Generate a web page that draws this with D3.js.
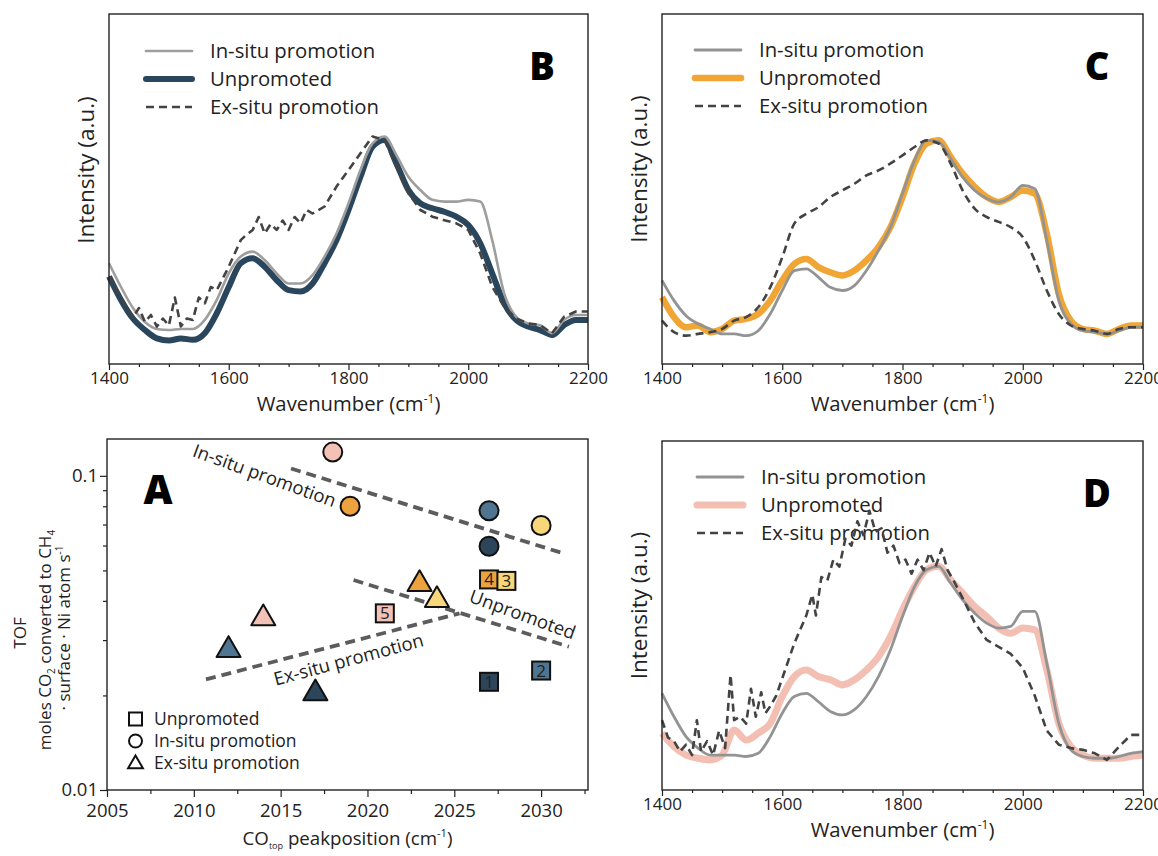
<!DOCTYPE html>
<html>
<head>
<meta charset="utf-8">
<script src="https://cdn.jsdelivr.net/npm/d3@7"></script>
<style>
body { margin: 0; background: #fff; }
svg { font-family: "Open Sans", sans-serif; }
</style>
</head>
<body>
<div id="chart"></div>
<script>
/** Spectra data (intensity as fraction of the plot height) **/
var wn = [1400,1420,1440,1460,1480,1500,1520,1540,1560,1580,1600,1620,1640,1660,1680,1700,1720,1740,1760,1780,
          1800,1820,1840,1860,1880,1900,1920,1940,1960,1980,2000,2020,2040,2060,2080,2100,2120,2140,2160,2180,2200];

// panel B
var bInsitu = [0.288,0.22,0.16,0.12,0.10,0.097,0.10,0.10,0.126,0.183,0.259,0.307,0.321,0.297,0.259,0.23,0.23,0.254,0.307,0.373,
               0.459,0.554,0.63,0.65,0.597,0.535,0.497,0.469,0.464,0.464,0.469,0.464,0.354,0.202,0.135,0.116,0.111,0.088,0.126,0.14,0.14];
var bUnpro = [0.25,0.183,0.13,0.097,0.073,0.067,0.073,0.069,0.088,0.145,0.22,0.288,0.302,0.278,0.24,0.211,0.207,0.23,0.288,0.354,
              0.44,0.535,0.621,0.64,0.573,0.497,0.459,0.445,0.435,0.421,0.397,0.345,0.259,0.173,0.126,0.107,0.097,0.083,0.111,0.126,0.126];
var bExWn = [1400,1420,1440,1450,1460,1470,1480,1490,1500,1510,1520,1530,1540,1550,1560,1570,1580,1600,1620,1630,1640,1650,1660,1670,
             1680,1690,1700,1710,1720,1730,1740,1760,1780,1800,1820,1840,1860,1880,1900,1920,1940,1960,1980,2000,2020,2040,2060,2080,
             2100,2120,2140,2160,2180,2200];
var bExsitu = [0.25,0.19,0.133,0.16,0.12,0.14,0.107,0.13,0.11,0.19,0.107,0.13,0.126,0.19,0.173,0.22,0.211,0.278,0.354,0.37,0.383,0.42,
               0.373,0.40,0.383,0.41,0.383,0.42,0.402,0.44,0.43,0.45,0.507,0.554,0.602,0.65,0.64,0.564,0.488,0.44,0.421,0.411,0.402,
               0.383,0.316,0.221,0.164,0.13,0.116,0.111,0.088,0.135,0.15,0.15];

// panel C
var cInsitu = [0.239,0.181,0.138,0.115,0.10,0.086,0.086,0.081,0.095,0.143,0.21,0.267,0.272,0.248,0.219,0.21,0.224,0.267,0.324,0.391,
               0.487,0.582,0.639,0.635,0.587,0.534,0.496,0.473,0.463,0.477,0.51,0.501,0.353,0.181,0.115,0.095,0.091,0.086,0.095,0.105,0.105];
var cUnpro = [0.191,0.134,0.105,0.11,0.091,0.10,0.124,0.129,0.143,0.181,0.239,0.286,0.30,0.277,0.262,0.253,0.267,0.296,0.334,0.391,
              0.477,0.573,0.63,0.639,0.592,0.544,0.506,0.477,0.463,0.477,0.496,0.487,0.372,0.20,0.124,0.10,0.095,0.086,0.10,0.11,0.11];
var cExsitu = [0.124,0.091,0.081,0.086,0.091,0.10,0.124,0.134,0.162,0.219,0.305,0.401,0.429,0.448,0.477,0.496,0.515,0.539,0.553,0.573,
               0.596,0.62,0.639,0.63,0.573,0.496,0.444,0.42,0.406,0.391,0.363,0.296,0.21,0.143,0.11,0.10,0.095,0.086,0.10,0.105,0.105];

// panel D
var dInsitu = [0.277,0.21,0.153,0.12,0.10,0.10,0.10,0.096,0.105,0.153,0.22,0.268,0.277,0.253,0.225,0.215,0.23,0.268,0.325,0.402,
               0.497,0.583,0.631,0.641,0.593,0.545,0.507,0.478,0.464,0.469,0.512,0.512,0.363,0.191,0.115,0.096,0.091,0.091,0.096,0.105,0.11];
var dUnpro = [0.163,0.124,0.10,0.091,0.086,0.10,0.172,0.143,0.163,0.191,0.268,0.325,0.344,0.325,0.316,0.301,0.316,0.344,0.382,0.44,
              0.516,0.583,0.631,0.641,0.602,0.564,0.526,0.497,0.464,0.449,0.464,0.459,0.344,0.191,0.124,0.10,0.091,0.091,0.091,0.096,0.10];
var dExWn = [1400,1410,1420,1430,1440,1450,1458,1465,1475,1485,1495,1505,1514,1520,1530,1540,1548,1556,1565,1572,1580,1590,1600,1610,
             1620,1630,1640,1650,1656,1665,1675,1685,1695,1705,1715,1725,1735,1745,1755,1765,1775,1785,1795,1805,1815,1825,1835,1845,
             1855,1865,1875,1885,1900,1920,1940,1960,1980,2000,2020,2040,2060,2080,2100,2120,2140,2160,2180,2200];
var dExsitu = [0.20,0.15,0.14,0.11,0.13,0.10,0.20,0.11,0.14,0.10,0.17,0.12,0.33,0.20,0.21,0.19,0.29,0.21,0.28,0.22,0.24,0.27,0.32,0.37,
               0.42,0.46,0.50,0.56,0.50,0.61,0.60,0.66,0.64,0.72,0.70,0.77,0.73,0.80,0.74,0.75,0.68,0.70,0.65,0.66,0.62,0.66,0.63,0.68,
               0.64,0.69,0.63,0.60,0.55,0.48,0.43,0.41,0.39,0.35,0.27,0.17,0.13,0.12,0.115,0.105,0.086,0.124,0.158,0.158];

var specMajor = [1400, 1600, 1800, 2000, 2200];
var specMinor = [1450, 1500, 1550, 1650, 1700, 1750, 1850, 1900, 1950, 2050, 2100, 2150];

/** Panel A data **/
var catColors = ["#2c455a", "#4f7592", "#f8d77b", "#eca23f", "#f3c1b5"];   // catalysts 1..5
var unproCat = [1, 2, 4, 3, 5];
var unproX = [2027, 2030, 2027, 2028, 2021];
var unproY = [0.0221, 0.024, 0.0468, 0.0463, 0.0365];
var insituCat = [1, 2, 3, 4, 5];
var insituX = [2027, 2027, 2030, 2019, 2018];
var insituY = [0.0597, 0.0774, 0.0695, 0.080, 0.119];
var exsituCat = [1, 2, 3, 4, 5];
var exsituX = [2017, 2012, 2024, 2023, 2014];
var exsituY = [0.0203, 0.0279, 0.0402, 0.0452, 0.0352];

// dashed trend lines [x0, y0, x1, y1]
var trendInsitu = [2015.6, 0.1055, 2031.3, 0.0566];
var trendUnpro = [2019.2, 0.0466, 2031.6, 0.0286];
var trendExsitu = [2010.7, 0.0225, 2025.3, 0.0365];

var aXMajor = [2005, 2010, 2015, 2020, 2025, 2030];
var aXMinor = [2007.5, 2012.5, 2017.5, 2022.5, 2027.5, 2032.5];
var aYMajor = [0.01, 0.1];
var aYMinor = [0.02, 0.03, 0.04, 0.05, 0.06, 0.07, 0.08, 0.09];

var svg = d3.select("#chart").append("svg")
    .attr("width", 1158)
    .attr("height", 856);

function styleAxis(sel, fontSize)
{
	sel.attr("font-family", null).attr("font-size", null);
	sel.select(".domain").remove();
	sel.selectAll(".tick line").attr("stroke", "#222").attr("stroke-width", 1.2);
	sel.selectAll(".tick text").attr("fill", "#222").style("font-size", fontSize + "px");
}

function cmLabel(textSel, pre)
{
	textSel.append("tspan").text(pre + " (cm");
	textSel.append("tspan").attr("dy", -8).style("font-size", "12px").text("-1");
	textSel.append("tspan").attr("dy", 8).text(")");
}

function drawSpectrum(p)
{
	var x = d3.scaleLinear().domain([1400, 2200]).range([p.left, p.right]);
	var y = d3.scaleLinear().domain([0, 1]).range([p.bottom, p.top]);
	var g = svg.append("g");

	g.append("g")
		.attr("transform", "translate(0," + p.bottom + ")")
		.call(d3.axisBottom(x).tickValues(specMinor).tickSize(3).tickFormat(""))
		.call(styleAxis, 17);
	g.append("g")
		.attr("transform", "translate(0," + p.bottom + ")")
		.call(d3.axisBottom(x).tickValues(specMajor).tickSize(6).tickPadding(2).tickFormat(d3.format("d")))
		.call(styleAxis, 17);

	// legend (drawn under the data)
	p.series.forEach(function(s, i)
	{
		var ly = p.legendY + i * 28;
		g.append("line")
			.attr("x1", p.legendX).attr("x2", p.legendX + 46)
			.attr("y1", ly).attr("y2", ly)
			.attr("stroke", s.color).attr("stroke-width", s.width)
			.attr("stroke-dasharray", s.dash || null)
			.attr("stroke-linecap", s.dash ? "butt" : "round");
		g.append("text")
			.attr("x", p.legendX + 64).attr("y", ly + 7)
			.style("font-size", "20.3px").attr("fill", "#222")
			.text(s.name);
	});

	var line = d3.line()
		.x(function(d) { return x(d[0]); })
		.y(function(d) { return y(d[1]); });

	p.drawOrder.forEach(function(i)
	{
		var s = p.series[i];
		var pts = d3.zip(s.x, s.y);
		g.append("path")
			.datum(pts)
			.attr("fill", "none")
			.attr("stroke", s.color)
			.attr("stroke-width", s.width)
			.attr("stroke-dasharray", s.dash || null)
			.attr("stroke-linejoin", "round")
			.attr("d", line.curve(s.dense ? d3.curveLinear : d3.curveMonotoneX));
	});

	g.append("rect")
		.attr("x", p.left).attr("y", p.top)
		.attr("width", p.right - p.left).attr("height", p.bottom - p.top)
		.attr("fill", "none").attr("stroke", "#222").attr("stroke-width", 1.4);

	g.append("text")
		.attr("x", p.right - 46).attr("y", p.top + 66)
		.attr("text-anchor", "middle")
		.style("font-size", "38px").style("font-weight", 800)
		.attr("fill", "#000")
		.text(p.letter);

	g.append("text")
		.attr("transform", "translate(" + (p.left - 15) + "," + ((p.top + p.bottom) / 2 + p.labelShift) + ") rotate(-90)")
		.attr("text-anchor", "middle")
		.style("font-size", "22.5px").attr("fill", "#222")
		.text("Intensity (a.u.)");

	var xl = g.append("text")
		.attr("x", (p.left + p.right) / 2).attr("y", p.bottom + 47)
		.attr("text-anchor", "middle")
		.style("font-size", "20.3px").attr("fill", "#222");
	cmLabel(xl, "Wavenumber");
}

var grayIn = "#939393";
var darkEx = "#434343";

drawSpectrum({
	left: 109, right: 588, top: 14, bottom: 364, letter: "B", labelShift: -19,
	legendX: 146, legendY: 51, drawOrder: [1, 0, 2],
	series: [
		{ name: "In-situ promotion", x: wn, y: bInsitu, color: "#9e9e9e", width: 2.6 },
		{ name: "Unpromoted", x: wn, y: bUnpro, color: "#2a465c", width: 6 },
		{ name: "Ex-situ promotion", x: bExWn, y: bExsitu, color: darkEx, width: 2.6, dash: "8,5", dense: true }
	]
});

drawSpectrum({
	left: 662, right: 1143, top: 14, bottom: 364, letter: "C", labelShift: -20,
	legendX: 695, legendY: 50, drawOrder: [1, 0, 2],
	series: [
		{ name: "In-situ promotion", x: wn, y: cInsitu, color: grayIn, width: 2.8 },
		{ name: "Unpromoted", x: wn, y: cUnpro, color: "#f0a534", width: 6.5 },
		{ name: "Ex-situ promotion", x: wn, y: cExsitu, color: darkEx, width: 2.6, dash: "8,5" }
	]
});

drawSpectrum({
	left: 662, right: 1143, top: 441, bottom: 790, letter: "D", labelShift: -10,
	legendX: 697, legendY: 477, drawOrder: [1, 0, 2],
	series: [
		{ name: "In-situ promotion", x: wn, y: dInsitu, color: grayIn, width: 2.8 },
		{ name: "Unpromoted", x: wn, y: dUnpro, color: "#f3bfb2", width: 7 },
		{ name: "Ex-situ promotion", x: dExWn, y: dExsitu, color: darkEx, width: 2.6, dash: "8,5", dense: true }
	]
});

/** Panel A **/
function drawModule_A()
{
	var left = 107, right = 588, top = 439, bottom = 790;
	var x = d3.scaleLinear().domain([2005, 2032.7]).range([left, right]);
	var y = d3.scaleLog().domain([0.01, 0.131]).range([bottom, top]);
	var g = svg.append("g");

	g.append("g").attr("transform", "translate(0," + bottom + ")")
		.call(d3.axisBottom(x).tickValues(aXMinor).tickSize(4).tickFormat(""))
		.call(styleAxis, 18.5);
	g.append("g").attr("transform", "translate(0," + bottom + ")")
		.call(d3.axisBottom(x).tickValues(aXMajor).tickSize(7).tickPadding(7).tickFormat(d3.format("d")))
		.call(styleAxis, 18.5);
	g.append("g").attr("transform", "translate(" + left + ",0)")
		.call(d3.axisLeft(y).tickValues(aYMinor).tickSize(4).tickFormat(""))
		.call(styleAxis, 18.5);
	g.append("g").attr("transform", "translate(" + left + ",0)")
		.call(d3.axisLeft(y).tickValues(aYMajor).tickSize(7).tickPadding(2).tickFormat(function(d) { return d == 0.1 ? "0.1" : "0.01"; }))
		.call(styleAxis, 18.5);

	// trend lines
	[trendInsitu, trendUnpro, trendExsitu].forEach(function(t)
	{
		g.append("line")
			.attr("x1", x(t[0])).attr("y1", y(t[1]))
			.attr("x2", x(t[2])).attr("y2", y(t[3]))
			.attr("stroke", "#5c5c5c").attr("stroke-width", 3.8)
			.attr("stroke-dasharray", "10,6");
	});

	// rotated trend labels
	var tl = [
		{ t: "In-situ promotion", x: 264, y: 477, a: 20 },
		{ t: "Unpromoted", x: 522, y: 616, a: 20 },
		{ t: "Ex-situ promotion", x: 349, y: 661, a: -15 }
	];
	tl.forEach(function(d)
	{
		g.append("text")
			.attr("transform", "translate(" + d.x + "," + d.y + ") rotate(" + d.a + ")")
			.attr("text-anchor", "middle").attr("dominant-baseline", "middle")
			.style("font-size", "18.5px").attr("fill", "#222")
			.text(d.t);
	});

	// markers
	var tri = d3.symbol().type(d3.symbolTriangle).size(250);
	exsituX.forEach(function(v, i)
	{
		g.append("path")
			.attr("d", tri())
			.attr("transform", "translate(" + x(v) + "," + y(exsituY[i]) + ")")
			.attr("fill", catColors[exsituCat[i] - 1])
			.attr("stroke", "#111").attr("stroke-width", 2).attr("stroke-linejoin", "round");
	});
	insituX.forEach(function(v, i)
	{
		g.append("circle")
			.attr("cx", x(v)).attr("cy", y(insituY[i])).attr("r", 9.5)
			.attr("fill", catColors[insituCat[i] - 1])
			.attr("stroke", "#111").attr("stroke-width", 2);
	});
	unproX.forEach(function(v, i)
	{
		var cx = x(v), cy = y(unproY[i]);
		g.append("rect")
			.attr("x", cx - 9).attr("y", cy - 9).attr("width", 18).attr("height", 18)
			.attr("fill", catColors[unproCat[i] - 1])
			.attr("stroke", "#111").attr("stroke-width", 2);
		g.append("text")
			.attr("x", cx).attr("y", cy + 6)
			.attr("text-anchor", "middle")
			.style("font-size", "17px").attr("fill", "#222")
			.text(unproCat[i]);
	});

	// legend
	var legY = [719, 741, 763];
	g.append("rect").attr("x", 129).attr("y", legY[0] - 6.5).attr("width", 13).attr("height", 13)
		.attr("fill", "#fff").attr("stroke", "#111").attr("stroke-width", 2);
	g.append("circle").attr("cx", 135.5).attr("cy", legY[1]).attr("r", 6.5)
		.attr("fill", "#fff").attr("stroke", "#111").attr("stroke-width", 2);
	g.append("path").attr("d", d3.symbol().type(d3.symbolTriangle).size(95)())
		.attr("transform", "translate(135.5," + (legY[2] + 1) + ")")
		.attr("fill", "#fff").attr("stroke", "#111").attr("stroke-width", 2);
	["Unpromoted", "In-situ promotion", "Ex-situ promotion"].forEach(function(t, i)
	{
		g.append("text").attr("x", 154).attr("y", legY[i] + 6)
			.style("font-size", "17.5px").attr("fill", "#222").text(t);
	});

	g.append("rect")
		.attr("x", left).attr("y", top)
		.attr("width", right - left).attr("height", bottom - top)
		.attr("fill", "none").attr("stroke", "#222").attr("stroke-width", 1.4);

	g.append("text")
		.attr("x", 158).attr("y", 504)
		.attr("text-anchor", "middle")
		.style("font-size", "40px").style("font-weight", 800)
		.text("A");

	// axis titles
	var xt = g.append("text")
		.attr("x", (left + right) / 2).attr("y", 845)
		.attr("text-anchor", "middle")
		.style("font-size", "18.7px").attr("fill", "#222");
	xt.append("tspan").text("CO");
	xt.append("tspan").attr("dy", 4).style("font-size", "9px").text("top");
	xt.append("tspan").attr("dy", -4).text(" peakposition (cm");
	xt.append("tspan").attr("dy", -8).style("font-size", "11px").text("-1");
	xt.append("tspan").attr("dy", 8).text(")");

	var t1 = g.append("text")
		.attr("transform", "translate(26,633) rotate(-90)")
		.attr("text-anchor", "middle")
		.style("font-size", "17px").attr("fill", "#222")
		.text("TOF");

	var t2 = g.append("text")
		.attr("transform", "translate(51,640) rotate(-90)")
		.attr("text-anchor", "middle")
		.style("font-size", "17px").attr("fill", "#222");
	t2.append("tspan").text("moles CO");
	t2.append("tspan").attr("dy", 4).style("font-size", "10px").text("2");
	t2.append("tspan").attr("dy", -4).text(" converted to CH");
	t2.append("tspan").attr("dy", 4).style("font-size", "10px").text("4");

	var t3 = g.append("text")
		.attr("transform", "translate(70,628) rotate(-90)")
		.attr("text-anchor", "middle")
		.style("font-size", "17px").attr("fill", "#222");
	t3.append("tspan").text("\u00b7 surface \u00b7 Ni atom s");
	t3.append("tspan").attr("dy", -7).style("font-size", "10px").text("-1");
}

drawModule_A();
</script>
</body>
</html>
